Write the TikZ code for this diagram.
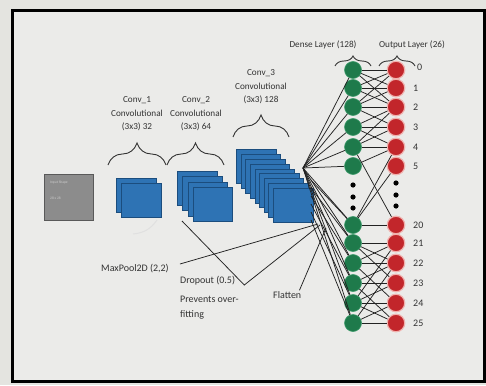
\documentclass[tikz,border=0pt]{standalone}
\usepackage{fontspec}
\setmainfont{Carlito}
\usetikzlibrary{decorations.pathreplacing,calc}

\definecolor{outer}{HTML}{E4E4E0}
\definecolor{paper}{HTML}{EBEBE9}
\definecolor{mapfill}{HTML}{2E73B4}
\definecolor{mapedge}{HTML}{1B4D7E}
\definecolor{gfill}{HTML}{1E7A4B}
\definecolor{gedge}{HTML}{3C9A6A}
\definecolor{rfill}{HTML}{C2262B}
\definecolor{redge}{HTML}{F0B2AE}
\definecolor{ink}{HTML}{222222}
\definecolor{txt}{HTML}{333333}

\tikzset{
  fmap/.style={draw=mapedge, fill=mapfill, line width=0.8pt, minimum width=39.5pt,
    minimum height=34pt, inner sep=0pt, anchor=north west},
  inbox/.style={draw=black!65, fill=black!45, line width=1.3pt, minimum width=49pt,
    minimum height=46pt, inner sep=0pt, anchor=north west},
  tinytext/.style={font=\fontsize{3.6}{4}\selectfont, text=black!20, inner sep=0pt, anchor=west},
  gnode/.style={circle, fill=gfill, draw=gedge, line width=0.6pt, minimum size=17pt, inner sep=0pt},
  rnode/.style={circle, fill=rfill, draw=redge, line width=1.2pt, minimum size=17.5pt, inner sep=0pt},
  num/.style={font=\fontsize{10}{12}\selectfont, text=txt, inner sep=0pt, anchor=west},
  lbl/.style={font=\fontsize{9.2}{13.6}\selectfont, text=txt, align=center, inner sep=0pt},
  ann/.style={font=\fontsize{10}{12}\selectfont, text=txt, inner sep=0pt, anchor=west},
  conn/.style={draw=ink, line width=0.75pt},
  brc/.style={draw=txt, line width=0.9pt, decorate, decoration={brace, amplitude=#1}},
  faint/.style={draw=black!12, line width=1pt}
}

\begin{document}
\begin{tikzpicture}[x=1pt, y=-1pt]
\useasboundingbox (0,0) rectangle (486,385);
\fill[outer] (0,0) rectangle (486,385);
\fill[paper] (12,11) rectangle (484,381);
\draw[black, line width=3pt] (12,11) rectangle (484,381);

% input image
\node[inbox] (in) at (44,174) {};
\node[tinytext] (inA) at (50,183) {Input Shape};
\node[tinytext] (inB) at (50,198) {28 x 28};

% feature maps of the three convolution blocks
\foreach \i in {0,1}
  \node[fmap] (c1-\i) at ({116+5*\i},{178+5*\i}) {};
\foreach \i in {0,...,3}
  \node[fmap] (c2-\i) at ({177+5.3*\i},{171+5.3*\i}) {};
\foreach \i in {0,...,8}
  \node[fmap] (c3-\i) at ({236+4.625*\i},{149+4.875*\i}) {};

\draw[faint] (157,220) to[bend left=25] (133,234);

% braces and block captions
\draw[brc=22pt] (108,165) -- (166,165);
\draw[brc=22pt] (167,165) -- (224,165);
\draw[brc=22pt] (233,137) -- (289,137);
\draw[brc=10pt] (335,66) -- (371,66);
\draw[brc=10pt] (379,66) -- (415,66);

\node[lbl] (t1) at (137,114) {Conv\_1\\Convolutional\\(3x3) 32};
\node[lbl] (t2) at (196,114) {Conv\_2\\Convolutional\\(3x3) 64};
\node[lbl] (t3) at (261,87) {Conv\_3\\Convolutional\\(3x3) 128};
\node[lbl] (td) at (323,45) {Dense Layer (128)};
\node[lbl] (to) at (412,45) {Output Layer (26)};

% dense and output neurons
\foreach \n/\y in {0/70,1/88,2/107,3/127,4/147,5/166,20/225,21/243,22/263,23/283,24/303,25/323} {
  \node[gnode] (g\n) at (353,\y) {};
  \node[rnode] (r\n) at (396,\y) {};
}
\foreach \n/\y in {1/88,2/107,3/127,4/147,5/166,20/225,21/243,22/263,23/283,24/303,25/323}
  \node[num] (l\n) at (413,\y) {\n};
\node[num] (l0) at (417,67) {0};
\foreach \y in {185,197,208} {
  \fill[black] (353,\y) circle (2.6);
  \fill[black] (396,{\y-2}) circle (2.6);
}

% flatten: fan out from the last feature maps
\coordinate (hub) at (303,168);
\foreach \n in {0,1,2,3,4,5,20,21,22,23,24,25}
  \draw[conn] (hub) -- (g\n);
\foreach \n/\y in {20/180,21/188,22/196,23/204,24/212,25/220} {
  \coordinate (e\n) at (311,\y);
  \draw[conn] (e\n) -- (g\n);
}

% dense to output connections
\foreach \a/\b in {0/0,0/1,0/2,1/0,1/1,1/2,2/0,2/1,2/2,2/3,3/2,3/3,3/4,4/2,4/3,4/4,5/4,
                   4/20,20/4,20/5,
                   20/20,21/21,21/22,21/23,22/21,22/22,22/24,23/22,23/23,23/25,
                   24/21,24/23,24/24,24/25,25/22,25/24,25/25}
  \draw[conn] (g\a) -- (r\b);

% annotations
\node[ann] (mp) at (101,269) {MaxPool2D (2,2)};
\coordinate (mpT) at (318,224);
\draw[conn] ($(mp.east)+(11,-5)$) -- (mpT);

\node[ann] (dr) at (180,281) {Dropout (0.5)};
\node[ann] (pv) at (180,299) {Prevents over-};
\node[ann] (ft) at (180,315) {fitting};
\coordinate (drA) at (182,221);
\coordinate (drB) at (320,225);
\draw[conn] (drA) -- ($(dr.east)+(9,4)$) -- (drB);

\node[ann] (fl) at (273,295) {Flatten};
\coordinate (flT) at (326,228);
\draw[conn] ($(fl.north east)+(-2,-1)$) -- (flT);
\end{tikzpicture}
\end{document}
